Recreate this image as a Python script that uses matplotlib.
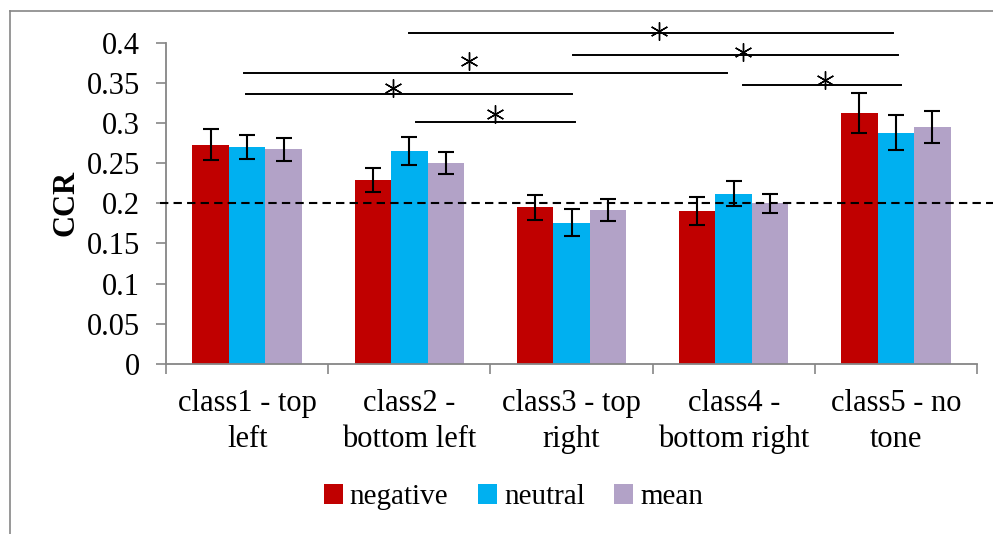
import matplotlib
matplotlib.use('Agg')
import matplotlib.pyplot as plt
from matplotlib.lines import Line2D

# categories and values
classes = ['class1 - top\nleft', 'class2 -\nbottom left', 'class3 - top\nright',
           'class4 -\nbottom right', 'class5 - no\ntone']
negative = [0.273, 0.229, 0.195, 0.190, 0.312]
neutral = [0.270, 0.265, 0.176, 0.212, 0.288]
mean = [0.267, 0.250, 0.192, 0.200, 0.295]
negative_err = [0.019, 0.0145, 0.0153, 0.0176, 0.025]
neutral_err = [0.015, 0.0174, 0.0168, 0.0158, 0.022]
mean_err = [0.0143, 0.014, 0.0135, 0.012, 0.020]

chance = 0.2

# significance bars: start, end, height, star x, star y
sig_start = [1.00, 2.01, -0.02, -0.01, 1.04, 3.06]
sig_end = [3.98, 4.01, 2.96, 2.00, 2.02, 4.03]
sig_y = [0.4115, 0.385, 0.3625, 0.336, 0.3015, 0.3475]
star_x = [2.54, 3.06, 1.37, 0.90, 1.53, 3.56]
star_y = [0.4147, 0.3878, 0.3770, 0.3438, 0.3107, 0.3534]

plt.rcParams['font.family'] = ['Liberation Serif', 'DejaVu Serif']

fig = plt.figure(figsize=(9.93, 5.34), dpi=100)
ax = fig.add_axes([0.1672, 0.3184, 0.8167, 0.602])

w = 0.225
x = list(range(len(classes)))
ekw = dict(elinewidth=1.5, capthick=1.5, ecolor='black')
ax.bar([i - w for i in x], negative, w, yerr=negative_err, color='#C00000',
       capsize=6, error_kw=ekw, label='negative')
ax.bar(x, neutral, w, yerr=neutral_err, color='#00B0F0',
       capsize=6, error_kw=ekw, label='neutral')
ax.bar([i + w for i in x], mean, w, yerr=mean_err, color='#B2A2C7',
       capsize=6, error_kw=ekw, label='mean')

# chance level line
ax.plot([-0.54, 4.6], [chance, chance], color='black', lw=1.5,
        dashes=(4, 2.5), clip_on=False, zorder=5)

# significance lines and stars
for i in range(len(sig_y)):
    ax.plot([sig_start[i], sig_end[i]], [sig_y[i], sig_y[i]], color='black',
            lw=1.4, clip_on=False)
    ax.plot(star_x[i], star_y[i], marker=(6, 2, 0), markersize=13,
            markeredgewidth=1.0, color='black', clip_on=False)

ax.set_xlim(-0.5, 4.5)
ax.set_ylim(0, 0.4)
ax.set_yticks([0, 0.05, 0.1, 0.15, 0.2, 0.25, 0.3, 0.35, 0.4])
ax.set_yticklabels(['0', '0.05', '0.1', '0.15', '0.2', '0.25', '0.3', '0.35', '0.4'])
ax.set_xticks([-0.5, 0.5, 1.5, 2.5, 3.5, 4.5])
ax.set_xticklabels([])
ax.set_xticks(x, minor=True)
ax.set_xticklabels(classes, minor=True)
ax.tick_params(axis='x', which='minor', length=0, pad=18, labelsize=22)
ax.tick_params(axis='x', which='major', length=7, color='#868686', width=1.2)
ax.tick_params(axis='y', length=7, color='#868686', width=1.2, labelsize=22, pad=12)
for lab in ax.get_xticklabels(minor=True):
    lab.set_linespacing(1.3)

ax.spines['top'].set_visible(False)
ax.spines['right'].set_visible(False)
ax.spines['left'].set_color('#868686')
ax.spines['bottom'].set_color('#868686')
ax.spines['left'].set_linewidth(1.3)
ax.spines['bottom'].set_linewidth(1.3)

ax.set_ylabel('CCR', fontsize=22, fontweight='bold', labelpad=4)

fig.legend(loc='center', bbox_to_anchor=(0.517, 0.069), ncol=3, frameon=False,
           fontsize=21, handlelength=0.65, handleheight=0.65, handletextpad=0.25,
           columnspacing=1.0)

# outer chart border (only left and top visible)
fig.add_artist(Line2D([10 / 993, 10 / 993], [0, 1 - 11 / 534], color='#868686', lw=1.2))
fig.add_artist(Line2D([10 / 993, 1], [1 - 11 / 534, 1 - 11 / 534], color='#868686', lw=1.2))

fig.savefig('out.png', dpi=100)
